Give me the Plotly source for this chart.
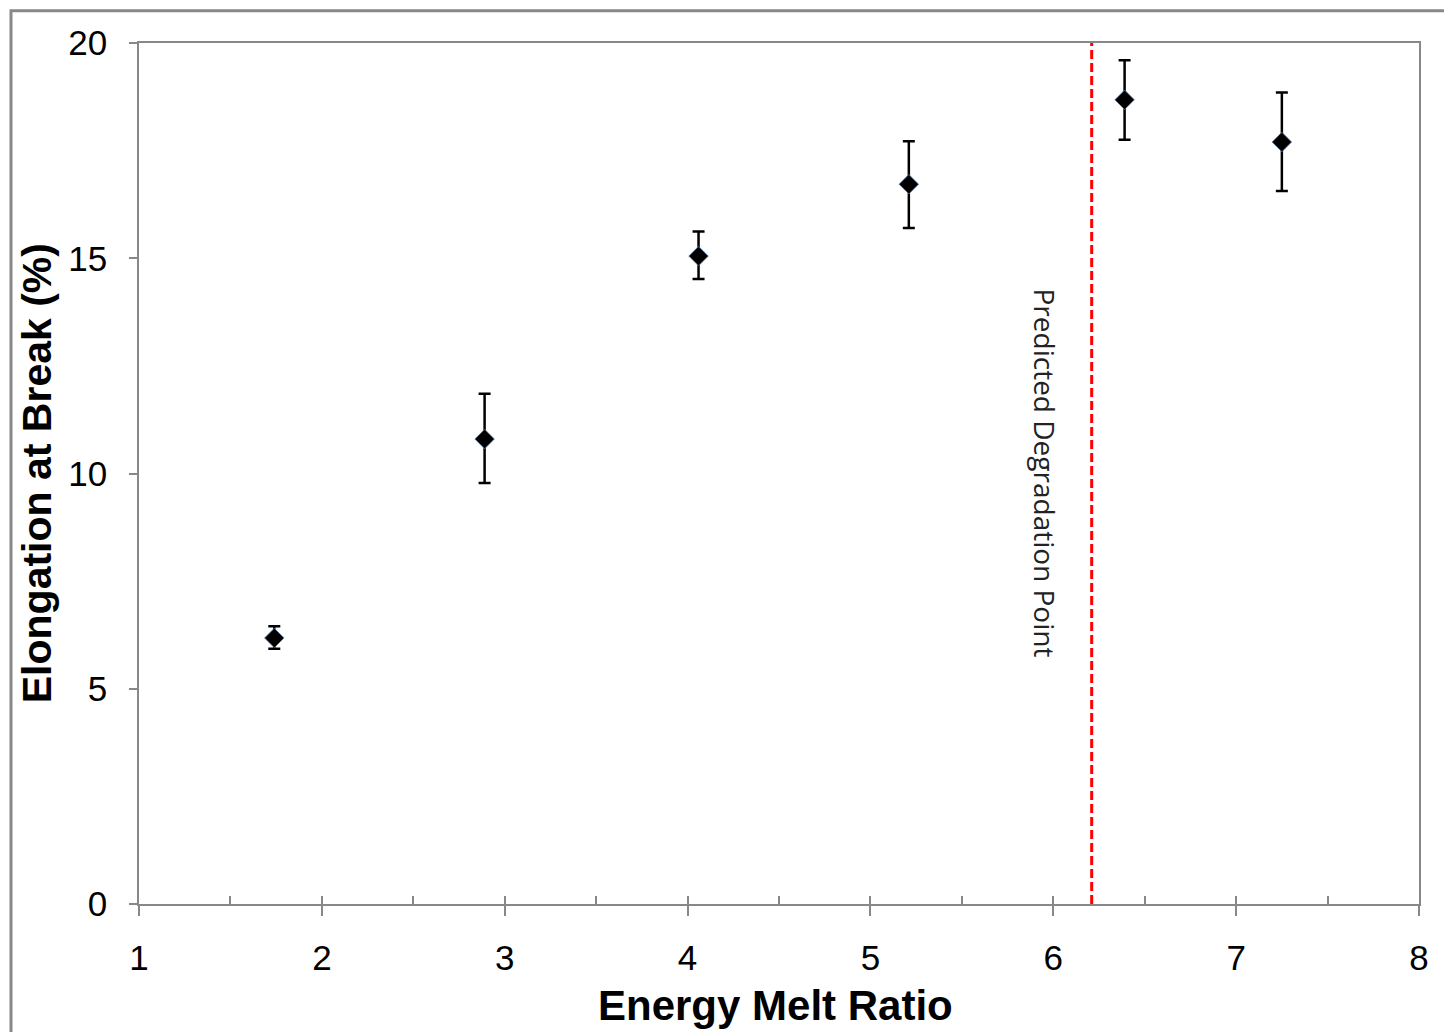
import plotly.graph_objects as go

energy_melt_ratio = [1.74, 2.89, 4.06, 5.21, 6.39, 7.25]
elongation = [6.18, 10.80, 15.05, 16.72, 18.68, 17.70]
err_plus = [0.27, 1.05, 0.57, 1.00, 0.92, 1.15]
err_minus = [0.25, 1.02, 0.53, 1.02, 0.93, 1.14]
degradation_x = 6.21
annotation_text = "Predicted Degradation Point"
x_title = "Energy Melt Ratio"
y_title = "Elongation at Break (%)"

fig = go.Figure()
fig.add_trace(go.Scatter(
    x=energy_melt_ratio, y=elongation, mode="markers",
    marker=dict(symbol="diamond", size=15, color="black",
                line=dict(color="#5b7fb0", width=0.8)),
    error_y=dict(type="data", array=err_plus, arrayminus=err_minus,
                 color="black", thickness=2.5, width=6),
    showlegend=False,
))
# invisible trace on overlay axis for minor inside ticks
fig.add_trace(go.Scatter(x=[1, 8], y=[0, 20], xaxis="x2", yaxis="y",
                         mode="markers", marker=dict(opacity=0),
                         showlegend=False, hoverinfo="skip"))

fig.add_shape(type="line", x0=degradation_x, x1=degradation_x, y0=0, y1=20,
              xref="x", yref="y", line=dict(color="#ff0000", width=3, dash="9px,4px"))
fig.add_annotation(x=5.96, y=10.0, xref="x", yref="y", text=annotation_text,
                   textangle=90, showarrow=False,
                   font=dict(family="Open Sans", size=28, color="#222222"))
# axis titles
fig.add_annotation(x=0.497, y=-0.118, xref="paper", yref="paper",
                   text="<b>" + x_title + "</b>", showarrow=False,
                   xanchor="center", yanchor="middle",
                   font=dict(family="Liberation Sans", size=42, color="black"))
fig.add_annotation(x=-0.0795, y=0.5006, xref="paper", yref="paper",
                   text="<b>" + y_title + "</b>", showarrow=False, textangle=-90,
                   xanchor="center", yanchor="middle",
                   font=dict(family="Liberation Sans", size=41, color="black"))
# outer border
fig.add_shape(type="rect", xref="paper", yref="paper",
              x0=-0.1, x1=1.05, y0=-0.2, y1=1.0375,
              line=dict(color="#888888", width=3))

axis_font = dict(family="Liberation Sans", size=35, color="black")
fig.update_layout(
    width=1452, height=1032,
    margin=dict(l=131, r=41, t=35, b=136, autoexpand=False),
    paper_bgcolor="white", plot_bgcolor="white",
    xaxis=dict(range=[1, 8], dtick=1, tick0=1, ticks="outside", ticklen=10,
               tickwidth=1.5, tickcolor="#888888", showline=True, linecolor="#888888",
               linewidth=1.5, mirror=True, showgrid=False, zeroline=False,
               tickfont=axis_font, ticklabelstandoff=12, automargin=False),
    xaxis2=dict(range=[1, 8], overlaying="x", side="bottom", dtick=0.5, tick0=1,
                ticks="inside", ticklen=8, tickwidth=1.5, tickcolor="#888888",
                showticklabels=False, showgrid=False, zeroline=False, showline=False,
                automargin=False),
    yaxis=dict(range=[0, 20], dtick=5, ticks="outside", ticklen=8, tickwidth=1.5,
               tickcolor="#888888", showline=True, linecolor="#888888", linewidth=1.5,
               mirror=True, showgrid=False, zeroline=False, tickfont=axis_font,
               ticklabelstandoff=15, automargin=False),
)
fig.write_html("out.html")
